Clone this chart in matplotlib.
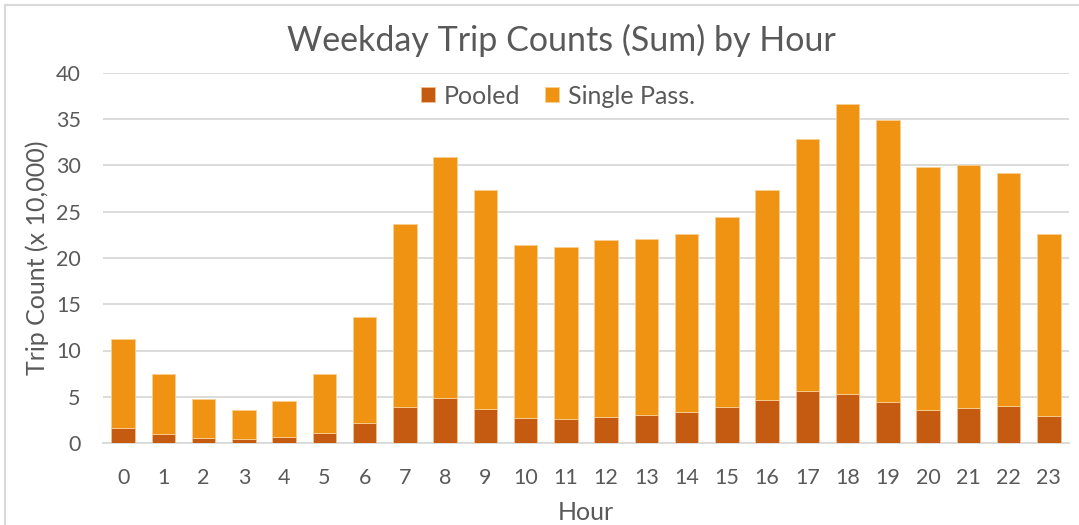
import numpy as np
import matplotlib.pyplot as plt
from matplotlib.patches import Rectangle

hours = [str(h) for h in range(24)]
pooled = [1.6, 0.95, 0.57, 0.46, 0.65, 1.08, 2.2, 3.9, 4.9, 3.7, 2.67, 2.63,
          2.85, 3.06, 3.39, 3.93, 4.7, 5.65, 5.33, 4.4, 3.6, 3.82, 3.97, 2.95]
total = [11.24, 7.42, 4.8, 3.55, 4.54, 7.42, 13.6, 23.7, 30.9, 27.3, 21.37, 21.15,
         21.94, 22.1, 22.6, 24.4, 27.35, 32.9, 36.65, 34.95, 29.8, 30.1, 29.2, 22.55]
single = [t - p for t, p in zip(total, pooled)]

plt.rcParams['font.family'] = ['Lato', 'DejaVu Sans']
txt = "#595959"
grid = "#D9D9D9"

fig = plt.figure(figsize=(10.79, 5.25), dpi=100)
ax = fig.add_axes([103 / 1079, 82 / 525, 966 / 1079, 370 / 525])

x = np.arange(len(hours))
w = 0.58
ax.bar(x, pooled, w, color="#C55A11", label="Pooled", zorder=3,
       edgecolor="#F4C08C", linewidth=0.6)
ax.bar(x, single, w, bottom=pooled, color="#F09212", label="Single Pass.", zorder=3,
       edgecolor="#F8CF95", linewidth=0.6)

ax.set_xlim(-0.5, 23.5)
ax.set_ylim(0, 40)
ax.set_yticks(range(0, 41, 5))
ax.set_xticks(x)
ax.set_xticklabels(hours)
ax.yaxis.grid(True, color=grid, linewidth=1.3, zorder=0)
for s in ["top", "right", "left"]:
    ax.spines[s].set_visible(False)
ax.spines["bottom"].set_color(grid)
ax.spines["bottom"].set_linewidth(1.3)
ax.tick_params(axis="both", length=0, labelsize=15.5, colors=txt)
ax.tick_params(axis="y", pad=16)
ax.tick_params(axis="x", pad=18)

ax.set_ylabel("Trip Count (x 10,000)", fontsize=18, color=txt, labelpad=5)
ax.set_xlabel("Hour", fontsize=18, color=txt, labelpad=9)
fig.text(561 / 1079, 1 - 40 / 525, "Weekday Trip Counts (Sum) by Hour",
         fontsize=24.5, color=txt, ha="center", va="center")

leg = fig.legend(loc="center", bbox_to_anchor=(558 / 1079, 1 - 96 / 525), ncol=2,
                 frameon=False, fontsize=18, handlelength=0.56, handleheight=0.56,
                 handletextpad=0.35, columnspacing=1.0, labelcolor=txt)

fig.patches.append(Rectangle((4.5 / 1079, -0.01), 1.02, 1 - 4.5 / 525 + 0.01,
                             transform=fig.transFigure, fill=False,
                             edgecolor="#D9D9D9", linewidth=1.5))

fig.savefig("out.png", dpi=100)
